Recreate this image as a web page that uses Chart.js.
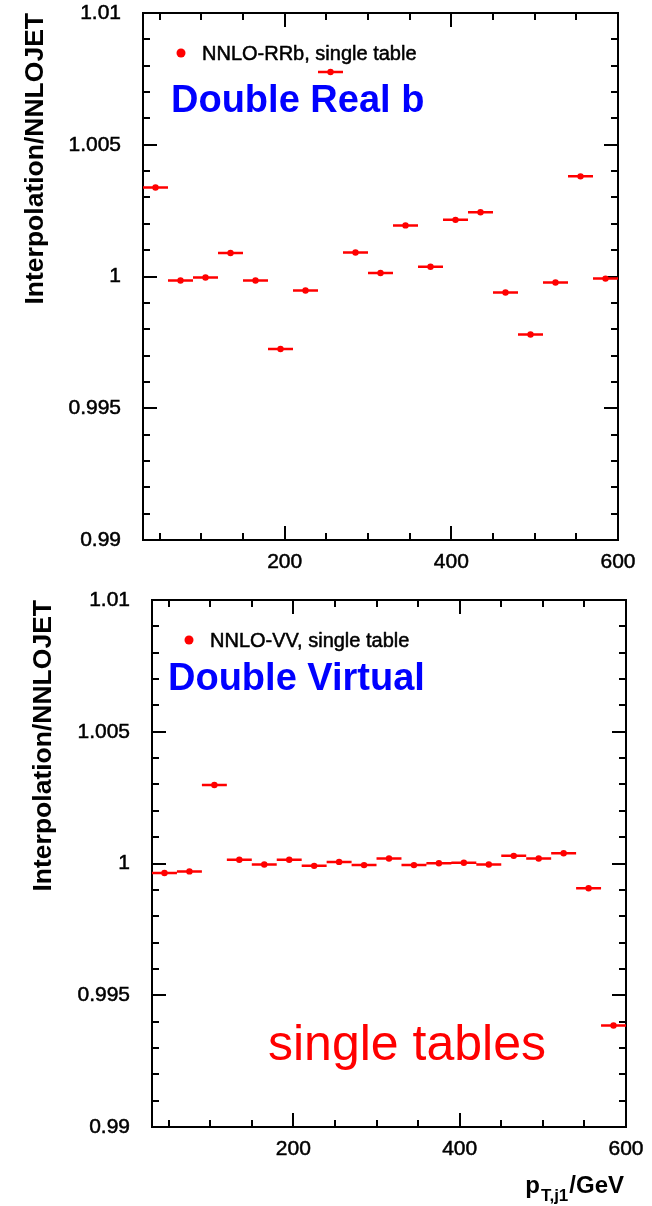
<!DOCTYPE html>
<html><head><meta charset="utf-8">
<script src="https://cdn.jsdelivr.net/npm/chart.js@4.4.1/dist/chart.umd.min.js"></script>
<style>
html,body{margin:0;padding:0;background:#fff;}
#wrap{position:relative;width:652px;height:1206px;overflow:hidden;background:#fff;}
canvas{position:absolute;left:0;}
#c1{top:0;}
#c2{top:590px;}
</style></head><body>
<div id="wrap"><canvas id="c1" width="652" height="590"></canvas><canvas id="c2" width="652" height="616"></canvas></div>
<script>
// ---------------- data ----------------
const binEdges   = [30,60,90,120,150,180,210,240,270,300,330,360,390,420,450,480,510,540,570,600];
const binCenters = [45,75,105,135,165,195,225,255,285,315,345,375,405,435,465,495,525,555,585];
const rrbValues  = [1.00338,0.99985,0.99996,1.00089,0.99985,0.99725,0.99947,1.00776,1.00091,1.00013,
                    1.00194,1.00037,1.00215,1.00244,0.99939,0.99780,0.99977,1.00380,0.99992];
const vvValues   = [0.99964,0.99970,1.00298,1.00014,0.99996,1.00014,0.99991,1.00006,0.99994,1.00019,
                    0.99994,1.00001,1.00003,0.99996,1.00029,1.00019,1.00039,0.99906,0.99385];
const xTickValues = [200,400,600];
const xTickLabels = ['200','400','600'];
const yTickValues = [0.99,0.995,1,1.005,1.01];
const yTickLabels = ['0.99','0.995','1','1.005','1.01'];
const xMin = 30, xMax = 600, yMin = 0.99, yMax = 1.01;
const xMinorStep = 50, yMinorStep = 0.001;
const yTitle = 'Interpolation/NNLOJET';

const FONT = "'Liberation Sans', Arial, Helvetica, sans-serif";
Chart.defaults.font.family = FONT;
Chart.defaults.color = '#000';

const framePlugin = {
  id: 'frame',
  beforeDatasetsDraw(chart) {
    const {ctx, chartArea: {left, right, top, bottom}, scales: {x, y}} = chart;
    ctx.save();
    ctx.strokeStyle = '#000';
    ctx.lineWidth = 2;
    ctx.beginPath();
    const majX = 14, minX = 7, majY = 14, minY = 7;
    for (let v = xMinorStep; v <= xMax + 1e-9; v += xMinorStep) {
      if (v < xMin) continue;
      const isMaj = xTickValues.some(t => Math.abs(t - v) < 1e-6);
      const len = isMaj ? majX : minX;
      const px = Math.round(x.getPixelForValue(v));
      ctx.moveTo(px, bottom); ctx.lineTo(px, bottom - len);
      ctx.moveTo(px, top); ctx.lineTo(px, top + len);
    }
    const n = Math.round((yMax - yMin) / yMinorStep);
    for (let k = 0; k <= n; k++) {
      const v = yMin + k * yMinorStep;
      const isMaj = yTickValues.some(t => Math.abs(t - v) < 1e-7);
      const len = isMaj ? majY : minY;
      const py = Math.round(y.getPixelForValue(v));
      ctx.moveTo(left, py); ctx.lineTo(left + len, py);
      ctx.moveTo(right, py); ctx.lineTo(right - len, py);
    }
    ctx.stroke();
    ctx.strokeRect(left, top, right - left, bottom - top);
    ctx.restore();
  }
};

function strokeFill(ctx, text, x, y, sw) {
  ctx.lineWidth = sw;
  ctx.strokeStyle = ctx.fillStyle;
  ctx.lineJoin = 'round';
  ctx.strokeText(text, x, y);
  ctx.fillText(text, x, y);
}

function makeTextPlugin(t) {
  return {
    id: 'texts',
    afterDraw(chart) {
      const ctx = chart.ctx;
      ctx.save();
      // legend marker
      ctx.fillStyle = '#ff0000';
      ctx.beginPath();
      ctx.arc(t.legDotX, t.legDotY, 4.5, 0, Math.PI * 2);
      ctx.fill();
      ctx.fillStyle = '#000';
      ctx.font = '20px ' + FONT;
      ctx.textBaseline = 'alphabetic';
      ctx.textAlign = 'left';
      strokeFill(ctx, t.legText, t.legTextX, t.legTextY, 0.5);
      // big blue label
      ctx.fillStyle = '#0000ff';
      ctx.font = 'bold 38px ' + FONT;
      ctx.fillText(t.bigText, t.bigX, t.bigY);
      if (t.extra) t.extra(ctx);
      ctx.restore();
    }
  };
}

function makePanel(id, H, g, values, texts) {
  const barPts = [];
  values.forEach((v, i) => {
    barPts.push({x: binEdges[i], y: v});
    barPts.push({x: binEdges[i + 1], y: v});
    barPts.push({x: binEdges[i + 1], y: null});
  });
  const dotPts = values.map((v, i) => ({x: binCenters[i], y: v}));
  return new Chart(document.getElementById(id), {
    type: 'scatter',
    data: {
      datasets: [
        {data: barPts, showLine: true, spanGaps: false, borderColor: '#ff0000', borderWidth: 2.5,
         pointRadius: 0, pointHoverRadius: 0, order: 2},
        {data: dotPts, showLine: false, pointRadius: 3.2, pointBackgroundColor: '#ff0000',
         pointBorderWidth: 0, pointBorderColor: '#ff0000', order: 1}
      ]
    },
    options: {
      responsive: false, animation: false, devicePixelRatio: 1,
      layout: {autoPadding: false, padding: {left: 0, top: g.top, right: 652 - g.right, bottom: 0}},
      plugins: {legend: {display: false}, tooltip: {enabled: false}},
      scales: {
        x: {
          type: 'linear', min: xMin, max: xMax,
          grid: {display: false, drawTicks: false}, border: {display: false},
          afterBuildTicks: s => { s.ticks = xTickValues.map(v => ({value: v})); },
          afterFit: s => { s.height = H - g.bottom; s.paddingLeft = 0; s.paddingRight = 0; },
          ticks: {autoSkip: false, maxRotation: 0, minRotation: 0, padding: 10, color: '#000',
                  font: {size: 21}, textStrokeColor: '#000', textStrokeWidth: 0.5,
                  callback: (v, i) => xTickLabels[i]}
        },
        y: {
          type: 'linear', min: yMin, max: yMax,
          grid: {display: false, drawTicks: false}, border: {display: false},
          afterBuildTicks: s => { s.ticks = yTickValues.map(v => ({value: v})); },
          afterFit: s => { s.width = g.left; s.paddingTop = 0; s.paddingBottom = 0; },
          ticks: {autoSkip: false, padding: 22, color: '#000', font: {size: 21},
                  textStrokeColor: '#000', textStrokeWidth: 0.5,
                  callback: (v, i) => yTickLabels[i]},
          title: {display: true, text: yTitle, align: 'end', color: '#000',
                  font: {size: 26.5, weight: 'bold'}, padding: {top: g.titlePad, bottom: 0}}
        }
      }
    },
    plugins: [framePlugin, makeTextPlugin(texts)]
  });
}

makePanel('c1', 590, {left: 143, top: 13, right: 618, bottom: 540, titlePad: 20}, rrbValues, {
  legDotX: 181, legDotY: 53, legText: 'NNLO-RRb, single table', legTextX: 202, legTextY: 60,
  bigText: 'Double Real b', bigX: 171, bigY: 112
});

makePanel('c2', 616, {left: 152, top: 10, right: 626, bottom: 537, titlePad: 28}, vvValues, {
  legDotX: 189, legDotY: 50, legText: 'NNLO-VV, single table', legTextX: 210, legTextY: 57,
  bigText: 'Double Virtual', bigX: 168, bigY: 100,
  extra: ctx => {
    ctx.fillStyle = '#ff0000';
    ctx.font = '50px ' + FONT;
    ctx.textAlign = 'left';
    ctx.fillText('single tables', 268, 470);
    // x-axis title p_{T,j1}/GeV
    ctx.fillStyle = '#000';
    ctx.textAlign = 'right';
    ctx.font = 'bold 24px ' + FONT;
    const endX = 624, base = 603;
    ctx.fillText('/GeV', endX, base);
    const w1 = ctx.measureText('/GeV').width;
    ctx.font = 'bold 17px ' + FONT;
    const subEnd = endX - w1 - 1;
    ctx.fillText('T,j1', subEnd, base + 8);
    const w2 = ctx.measureText('T,j1').width;
    ctx.font = 'bold 24px ' + FONT;
    ctx.fillText('p', subEnd - w2 - 1, base);
  }
});
</script>
</body></html>
